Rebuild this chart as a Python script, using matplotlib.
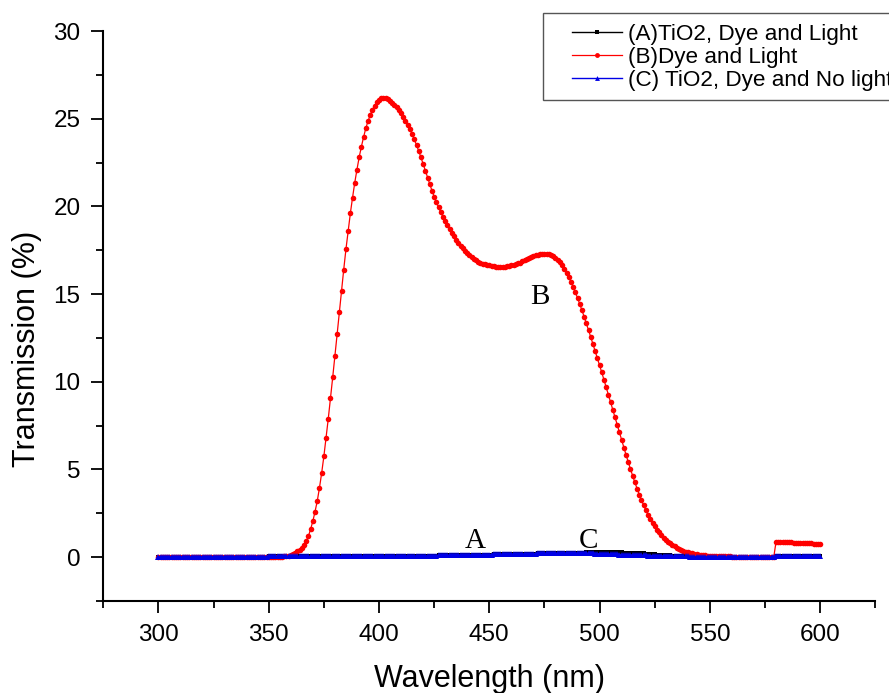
import numpy as np
import matplotlib
matplotlib.use("Agg")
import matplotlib.pyplot as plt
from matplotlib.patches import Rectangle
from matplotlib.ticker import MultipleLocator

# Wavelength grid, 1 nm steps
wavelength = np.arange(300, 601)

# (B) Dye and Light, transmission (%) from 300 to 600 nm
dye_light = [
    0.02, 0.02, 0.02, 0.02, 0.02, 0.02, 0.02, 0.02, 0.02, 0.02,   # 300
    0.02, 0.02, 0.02, 0.02, 0.02, 0.02, 0.02, 0.02, 0.02, 0.02,   # 310
    0.02, 0.02, 0.02, 0.02, 0.02, 0.02, 0.02, 0.02, 0.02, 0.02,   # 320
    0.02, 0.02, 0.02, 0.02, 0.02, 0.02, 0.02, 0.02, 0.02, 0.02,   # 330
    0.02, 0.02, 0.02, 0.02, 0.02, 0.02, 0.02, 0.02, 0.02, 0.02,   # 340
    0.02, 0.02, 0.02, 0.02, 0.02, 0.03, 0.03, 0.04, 0.05, 0.08,   # 350
    0.12, 0.18, 0.25, 0.33, 0.42, 0.55, 0.70, 0.90, 1.20, 1.60,   # 360
    2.05, 2.60, 3.20, 3.95, 4.80, 5.75, 6.80, 7.90, 9.05, 10.25,  # 370
    11.45, 12.70, 13.95, 15.20, 16.40, 17.55, 18.60, 19.60, 20.50, 21.35,  # 380
    22.10, 22.80, 23.40, 23.95, 24.45, 24.85, 25.20, 25.50, 25.75, 25.95,  # 390
    26.08, 26.17, 26.20, 26.17, 26.10, 26.02, 25.92, 25.80, 25.65, 25.48,  # 400
    25.30, 25.10, 24.88, 24.65, 24.40, 24.12, 23.82, 23.50, 23.16, 22.80,  # 410
    22.42, 22.03, 21.64, 21.26, 20.90, 20.56, 20.24, 19.94, 19.66, 19.40,  # 420
    19.15, 18.92, 18.70, 18.49, 18.29, 18.10, 17.92, 17.75, 17.60, 17.46,  # 430
    17.33, 17.21, 17.10, 17.00, 16.92, 16.85, 16.79, 16.74, 16.70, 16.66,  # 440
    16.63, 16.60, 16.58, 16.57, 16.56, 16.55, 16.55, 16.56, 16.58, 16.60,  # 450
    16.63, 16.66, 16.70, 16.75, 16.80, 16.86, 16.92, 16.98, 17.04, 17.10,  # 460
    17.16, 17.21, 17.25, 17.28, 17.30, 17.30, 17.28, 17.26, 17.22, 17.15,  # 470
    17.07, 16.96, 16.82, 16.65, 16.45, 16.23, 15.98, 15.71, 15.42, 15.11,  # 480
    14.78, 14.44, 14.08, 13.71, 13.33, 12.94, 12.55, 12.15, 11.75, 11.35,  # 490
    10.94, 10.53, 10.11, 9.69, 9.26, 8.83, 8.40, 7.97, 7.54, 7.11,    # 500
    6.68, 6.25, 5.83, 5.42, 5.02, 4.63, 4.26, 3.91, 3.57, 3.25,       # 510
    2.95, 2.67, 2.41, 2.17, 1.95, 1.75, 1.57, 1.41, 1.26, 1.12,       # 520
    0.99, 0.88, 0.78, 0.69, 0.61, 0.54, 0.47, 0.41, 0.36, 0.32,       # 530
    0.28, 0.25, 0.22, 0.19, 0.17, 0.15, 0.13, 0.12, 0.10, 0.09,       # 540
    0.08, 0.07, 0.06, 0.06, 0.05, 0.05, 0.04, 0.04, 0.04, 0.04,       # 550
    0.03, 0.03, 0.03, 0.03, 0.03, 0.03, 0.03, 0.03, 0.03, 0.03,       # 560
    0.03, 0.03, 0.03, 0.03, 0.03, 0.03, 0.03, 0.03, 0.03, 0.03,       # 570
    0.88, 0.87, 0.87, 0.86, 0.86, 0.85, 0.84, 0.84, 0.83, 0.82,       # 580
    0.82, 0.81, 0.80, 0.80, 0.79, 0.78, 0.78, 0.77, 0.76, 0.75,       # 590
    0.74,                                                              # 600
]

# (C) TiO2, Dye and No light
tio2_dark = [
    0.02, 0.02, 0.02, 0.02, 0.02, 0.02, 0.02, 0.02, 0.02, 0.02,   # 300
    0.02, 0.02, 0.02, 0.02, 0.02, 0.02, 0.02, 0.02, 0.02, 0.02,   # 310
    0.03, 0.03, 0.03, 0.03, 0.03, 0.03, 0.03, 0.03, 0.03, 0.03,   # 320
    0.03, 0.03, 0.03, 0.03, 0.03, 0.03, 0.03, 0.03, 0.03, 0.03,   # 330
    0.03, 0.03, 0.03, 0.03, 0.03, 0.03, 0.03, 0.03, 0.03, 0.03,   # 340
    0.04, 0.04, 0.04, 0.04, 0.04, 0.04, 0.04, 0.04, 0.04, 0.04,   # 350
    0.04, 0.04, 0.04, 0.04, 0.04, 0.04, 0.04, 0.04, 0.04, 0.04,   # 360
    0.04, 0.04, 0.04, 0.04, 0.04, 0.04, 0.04, 0.04, 0.04, 0.04,   # 370
    0.05, 0.05, 0.05, 0.05, 0.05, 0.05, 0.05, 0.05, 0.05, 0.05,   # 380
    0.05, 0.05, 0.05, 0.05, 0.05, 0.05, 0.05, 0.05, 0.05, 0.05,   # 390
    0.06, 0.06, 0.06, 0.06, 0.06, 0.06, 0.06, 0.06, 0.06, 0.06,   # 400
    0.07, 0.07, 0.07, 0.07, 0.07, 0.07, 0.07, 0.07, 0.07, 0.07,   # 410
    0.08, 0.08, 0.08, 0.09, 0.09, 0.09, 0.09, 0.10, 0.10, 0.10,   # 420
    0.10, 0.10, 0.11, 0.11, 0.11, 0.11, 0.12, 0.12, 0.12, 0.12,   # 430
    0.13, 0.13, 0.13, 0.13, 0.14, 0.14, 0.14, 0.14, 0.15, 0.15,   # 440
    0.15, 0.15, 0.16, 0.16, 0.16, 0.16, 0.17, 0.17, 0.17, 0.17,   # 450
    0.18, 0.18, 0.18, 0.18, 0.19, 0.19, 0.19, 0.19, 0.20, 0.20,   # 460
    0.20, 0.20, 0.21, 0.21, 0.21, 0.21, 0.22, 0.22, 0.22, 0.22,   # 470
    0.22, 0.22, 0.23, 0.23, 0.23, 0.23, 0.23, 0.23, 0.23, 0.23,   # 480
    0.23, 0.22, 0.22, 0.22, 0.22, 0.21, 0.21, 0.21, 0.20, 0.20,   # 490
    0.20, 0.19, 0.19, 0.18, 0.18, 0.17, 0.17, 0.16, 0.16, 0.15,   # 500
    0.15, 0.14, 0.14, 0.13, 0.13, 0.12, 0.12, 0.11, 0.11, 0.10,   # 510
    0.10, 0.10, 0.09, 0.09, 0.08, 0.08, 0.08, 0.07, 0.07, 0.07,   # 520
    0.06, 0.06, 0.06, 0.05, 0.05, 0.05, 0.05, 0.04, 0.04, 0.04,   # 530
    0.04, 0.03, 0.03, 0.03, 0.03, 0.03, 0.02, 0.02, 0.02, 0.02,   # 540
    0.02, 0.02, 0.01, 0.01, 0.01, 0.01, 0.01, 0.01, 0.01, 0.01,   # 550
    0.01, 0.01, 0.01, 0.01, 0.01, 0.01, 0.01, 0.01, 0.01, 0.01,   # 560
    0.01, 0.01, 0.01, 0.01, 0.01, 0.01, 0.01, 0.01, 0.01, 0.01,   # 570
    0.07, 0.07, 0.07, 0.07, 0.07, 0.07, 0.07, 0.07, 0.07, 0.07,   # 580
    0.07, 0.07, 0.07, 0.07, 0.07, 0.07, 0.07, 0.07, 0.07, 0.07,   # 590
    0.07,                                                          # 600
]

# (A) TiO2, Dye and Light
tio2_light = [
    0.02, 0.02, 0.02, 0.02, 0.02, 0.02, 0.02, 0.02, 0.02, 0.02,   # 300
    0.02, 0.02, 0.02, 0.02, 0.02, 0.02, 0.02, 0.02, 0.02, 0.02,   # 310
    0.03, 0.03, 0.03, 0.03, 0.03, 0.03, 0.03, 0.03, 0.03, 0.03,   # 320
    0.03, 0.03, 0.03, 0.03, 0.03, 0.03, 0.03, 0.03, 0.03, 0.03,   # 330
    0.03, 0.03, 0.03, 0.03, 0.03, 0.03, 0.03, 0.03, 0.03, 0.03,   # 340
    0.04, 0.04, 0.04, 0.04, 0.04, 0.04, 0.04, 0.04, 0.04, 0.04,   # 350
    0.04, 0.04, 0.04, 0.04, 0.04, 0.04, 0.04, 0.04, 0.04, 0.04,   # 360
    0.04, 0.04, 0.04, 0.04, 0.04, 0.04, 0.04, 0.04, 0.04, 0.04,   # 370
    0.05, 0.05, 0.05, 0.05, 0.05, 0.05, 0.05, 0.05, 0.05, 0.05,   # 380
    0.05, 0.05, 0.05, 0.05, 0.05, 0.05, 0.05, 0.05, 0.05, 0.05,   # 390
    0.06, 0.06, 0.06, 0.06, 0.06, 0.06, 0.06, 0.06, 0.06, 0.06,   # 400
    0.07, 0.07, 0.07, 0.07, 0.07, 0.07, 0.07, 0.07, 0.07, 0.07,   # 410
    0.08, 0.08, 0.08, 0.09, 0.09, 0.09, 0.09, 0.10, 0.10, 0.10,   # 420
    0.10, 0.10, 0.11, 0.11, 0.11, 0.11, 0.12, 0.12, 0.12, 0.12,   # 430
    0.13, 0.13, 0.13, 0.13, 0.14, 0.14, 0.14, 0.14, 0.15, 0.15,   # 440
    0.15, 0.15, 0.16, 0.16, 0.16, 0.16, 0.17, 0.17, 0.17, 0.17,   # 450
    0.18, 0.18, 0.18, 0.18, 0.19, 0.19, 0.19, 0.19, 0.20, 0.20,   # 460
    0.20, 0.20, 0.21, 0.21, 0.21, 0.21, 0.22, 0.22, 0.22, 0.22,   # 470
    0.22, 0.23, 0.23, 0.23, 0.24, 0.24, 0.24, 0.24, 0.25, 0.25,   # 480
    0.25, 0.26, 0.26, 0.26, 0.27, 0.27, 0.27, 0.27, 0.28, 0.28,   # 490
    0.28, 0.28, 0.28, 0.28, 0.28, 0.28, 0.28, 0.28, 0.27, 0.27,   # 500
    0.27, 0.26, 0.26, 0.25, 0.25, 0.24, 0.24, 0.23, 0.22, 0.22,   # 510
    0.21, 0.20, 0.19, 0.18, 0.17, 0.16, 0.15, 0.14, 0.13, 0.12,   # 520
    0.11, 0.11, 0.10, 0.09, 0.09, 0.08, 0.08, 0.07, 0.07, 0.06,   # 530
    0.06, 0.05, 0.05, 0.05, 0.04, 0.04, 0.04, 0.03, 0.03, 0.03,   # 540
    0.02, 0.02, 0.02, 0.02, 0.01, 0.01, 0.01, 0.01, 0.01, 0.01,   # 550
    0.01, 0.01, 0.01, 0.01, 0.01, 0.01, 0.01, 0.01, 0.01, 0.01,   # 560
    0.01, 0.01, 0.01, 0.01, 0.01, 0.01, 0.01, 0.01, 0.01, 0.01,   # 570
    0.08, 0.08, 0.08, 0.08, 0.08, 0.08, 0.08, 0.08, 0.08, 0.08,   # 580
    0.08, 0.08, 0.08, 0.08, 0.08, 0.08, 0.08, 0.08, 0.08, 0.08,   # 590
    0.08,                                                          # 600
]

series_labels = ["(A)TiO2, Dye and Light", "(B)Dye and Light",
                 "(C) TiO2, Dye and No light"]
curve_tags = ["A", "B", "C"]
tag_positions = [(443.6, 0.93), (473.0, 14.84), (495.0, 0.93)]

plt.rcParams["font.family"] = ["Liberation Sans", "DejaVu Sans"]

fig = plt.figure(figsize=(8.89, 6.93), dpi=100)
ax = fig.add_axes([103.3 / 889, 1 - 601 / 693, 772 / 889, 570 / 693])

h_a, = ax.plot(wavelength, tio2_light, color="black", lw=1.0,
               marker="s", ms=2.6, mew=0, label=series_labels[0])
h_b, = ax.plot(wavelength, dye_light, color="#ff0000", lw=0.9,
               marker="o", ms=4.0, mew=0, label=series_labels[1])
h_c, = ax.plot(wavelength, tio2_dark, color="#0000e6", lw=1.0,
               marker="^", ms=5.0, mew=0, label=series_labels[2])

for tag, (tx, ty) in zip(curve_tags, tag_positions):
    ax.text(tx, ty, tag, family=["Liberation Serif", "DejaVu Serif"],
            fontsize=21, ha="center", va="center")

ax.set_xlim(275, 625)
ax.set_ylim(-2.5, 30)
ax.xaxis.set_major_locator(MultipleLocator(50))
ax.xaxis.set_minor_locator(MultipleLocator(25))
ax.yaxis.set_major_locator(MultipleLocator(5))
ax.yaxis.set_minor_locator(MultipleLocator(2.5))
ax.tick_params(which="major", direction="out", length=8.5, width=1.3,
               labelsize=17.5)
ax.tick_params(which="minor", direction="out", length=4.8, width=1.3)
ax.tick_params(axis="x", pad=8)
ax.tick_params(axis="y", pad=8)
ax.set_xticks([300, 350, 400, 450, 500, 550, 600])

for side in ("top", "right"):
    ax.spines[side].set_visible(False)
for side in ("left", "bottom"):
    ax.spines[side].set_linewidth(1.5)

ax.set_xlabel("Wavelength (nm)", fontsize=22)
ax.set_ylabel("Transmission (%)", fontsize=22)
ax.xaxis.set_label_coords(0.5, -0.11)
ax.yaxis.set_label_coords(-0.079, 0.442)

# Legend frame, extending past the right edge of the canvas
fig.patches.append(Rectangle((543 / 889, 1 - 100 / 693), 400 / 889, 87 / 693,
                             transform=fig.transFigure, facecolor="white",
                             edgecolor="#555555", lw=1.0, zorder=5))
leg = fig.legend(handles=[h_a, h_b, h_c], loc="upper left",
                 bbox_to_anchor=(572 / 889, 1 - 24 / 693), frameon=False,
                 fontsize=16.2, handlelength=2.2, handletextpad=0.3,
                 labelspacing=0.08, borderpad=0.0, borderaxespad=0.0,
                 numpoints=1, markerscale=1.0)
leg.set_zorder(6)
for line in leg.get_lines():
    line.set_markersize(3.5)

fig.savefig("out.png", dpi=100)
